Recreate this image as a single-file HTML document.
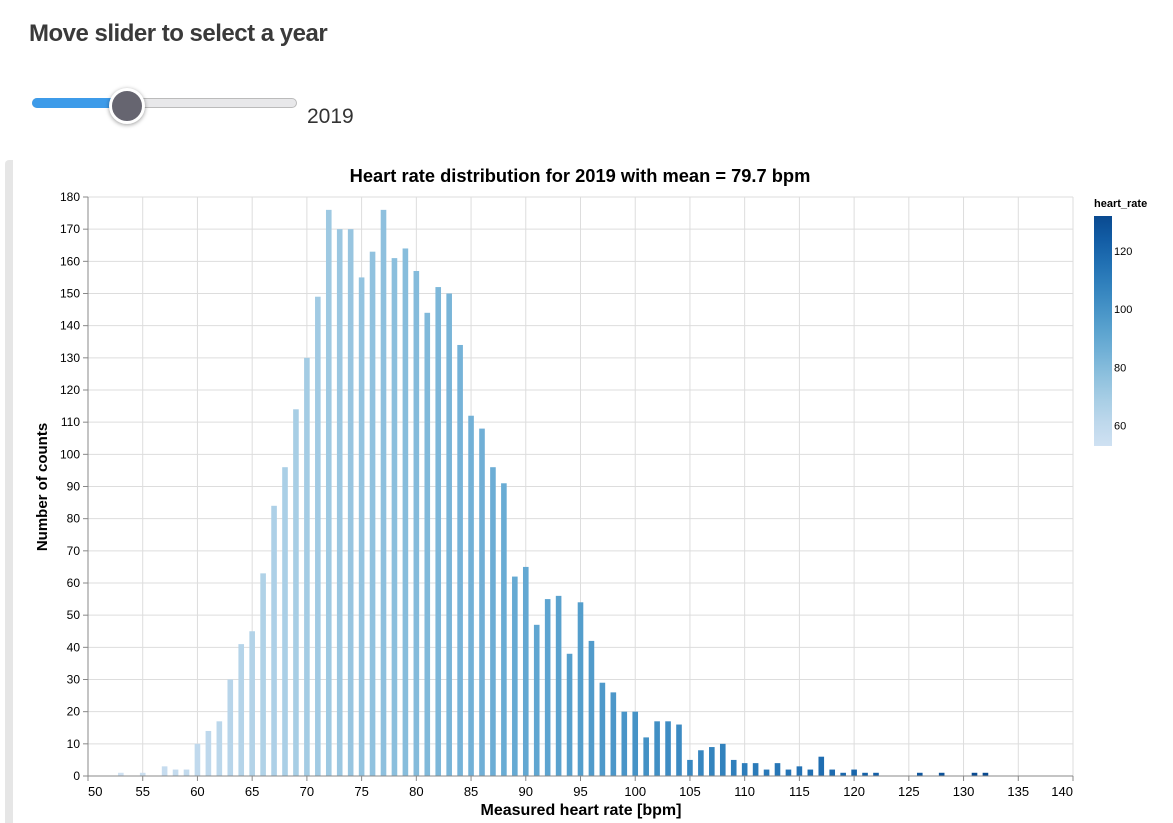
<!DOCTYPE html>
<html><head><meta charset="utf-8"><style>
body{margin:0;width:1173px;height:823px;background:#fff;font-family:"Liberation Sans",sans-serif;overflow:hidden;position:relative}
#h{position:absolute;left:29px;top:20px;font-size:24px;font-weight:bold;color:#3a3a3a;letter-spacing:-0.5px}
#track{position:absolute;left:32px;top:98px;width:265px;height:10px;border-radius:5px;background:#e8e8ea;border:1px solid #bbb;box-sizing:border-box}
#fill{position:absolute;left:32px;top:98px;width:95px;height:10px;border-radius:5px;background:#3d9be9}
#thumb{position:absolute;left:109px;top:88px;width:30px;height:30px;border-radius:50%;background:#666570;border:3px solid #fff;box-shadow:0 1px 4px rgba(0,0,0,.4)}
#yr{position:absolute;left:307px;top:105px;font-size:21px;color:#333}
#strip{position:absolute;left:5px;top:160px;width:8px;height:663px;background:#e6e6e6;border-radius:4px 0 0 0}
</style></head><body>
<div id="h">Move slider to select a year</div>
<div id="track"></div>
<div id="fill"></div>
<div id="thumb"></div>
<div id="yr">2019</div>
<div id="strip"></div>
<svg id="c" width="1173" height="823" style="position:absolute;left:0;top:0"></svg>
<script>
const heartRates=[53,55,57,58,59,60,61,62,63,64,65,66,67,68,69,70,71,72,73,74,75,76,77,78,79,80,81,82,83,84,85,86,87,88,89,90,91,92,93,94,95,96,97,98,99,100,101,102,103,104,105,106,107,108,109,110,111,112,113,114,115,116,117,118,119,120,121,122,126,128,131,132];
const counts=[1,1,3,2,2,10,14,17,30,41,45,63,84,96,114,130,149,176,170,170,155,163,176,161,164,157,144,152,150,134,112,108,96,91,62,65,47,55,56,38,54,42,29,26,20,20,12,17,17,16,5,8,9,10,5,4,4,2,4,2,3,2,6,2,1,2,1,1,1,1,1,1];
const xTicks=[50,55,60,65,70,75,80,85,90,95,100,105,110,115,120,125,130,135,140];
const yTicks=[0,10,20,30,40,50,60,70,80,90,100,110,120,130,140,150,160,170,180];
const legendTicks=[60,80,100,120];
const colorDomain=[53,132];
const NS="http://www.w3.org/2000/svg";
const svg=document.getElementById('c');
const X0=88,X1=1073,Y0=776,Y1=197;
const x=v=>X0+(v-50)/(140-50)*(X1-X0);
const y=v=>Y0-v/180*(Y0-Y1);
const stops=["#cfe1f2","#bed8ec","#a8cee5","#8fc1de","#74b2d7","#5ba3cf","#4592c6","#3181bd","#206fb2","#125ca4","#0a4a90"];
function hex(c){return [1,3,5].map(i=>parseInt(c.substr(i,2),16));}
function color(v){let t=(v-colorDomain[0])/(colorDomain[1]-colorDomain[0]);t=Math.max(0,Math.min(1,t));const p=t*(stops.length-1),i=Math.min(Math.floor(p),stops.length-2),f=p-i;const a=hex(stops[i]),b=hex(stops[i+1]);return "rgb("+a.map((c,k)=>Math.round(c+(b[k]-c)*f)).join(",")+")";}
function el(t,a,txt){const e=document.createElementNS(NS,t);for(const k in a)e.setAttribute(k,a[k]);if(txt!==undefined)e.textContent=txt;svg.appendChild(e);return e;}
yTicks.forEach(v=>{
 const g=el('line',{x1:X0,x2:X1,y1:y(v),y2:y(v),stroke:'#ddd'});
 
 
 el('line',{x1:X0-5,x2:X0,y1:y(v),y2:y(v),stroke:'#888'});
 const t=el('text',{x:X0-8,y:y(v)+4,'text-anchor':'end','font-size':12,fill:'#000'},v);
 
 
});
xTicks.forEach((v,i)=>{
 const g=el('line',{x1:x(v),x2:x(v),y1:Y1,y2:Y0,stroke:'#ddd'});
 
 
 el('line',{x1:x(v),x2:x(v),y1:Y0,y2:Y0+5,stroke:'#888'});
 const anchor=i===0?'start':(i===xTicks.length-1?'end':'middle');
 const t=el('text',{x:x(v),y:Y0+20,'text-anchor':anchor,'font-size':13,fill:'#000'},v);
 
 
});
heartRates.forEach((hr,i)=>{
 const r=el('rect',{x:x(hr)-2.8,y:y(counts[i]),width:5.6,height:Y0-y(counts[i]),fill:color(hr)});
 
 
});
el('line',{x1:X0,x2:X1,y1:Y0,y2:Y0,stroke:'#888'});
el('line',{x1:X0,x2:X0,y1:Y1,y2:Y0,stroke:'#888'});
let t=el('text',{x:580,y:182,'text-anchor':'middle','font-size':18.3,'font-weight':'bold'},'Heart rate distribution for 2019 with mean = 79.7 bpm');

t=el('text',{x:581,y:815,'text-anchor':'middle','font-size':16,'font-weight':'bold'},'Measured heart rate [bpm]');

t=el('text',{x:47,y:487,'text-anchor':'middle','font-size':15,'font-weight':'bold',transform:'rotate(-90 47 487)'},'Number of counts');

const defs=el('defs',{});
const lg=document.createElementNS(NS,'linearGradient');lg.setAttribute('id','lg');lg.setAttribute('x1','0');lg.setAttribute('x2','0');lg.setAttribute('y1','1');lg.setAttribute('y2','0');
stops.forEach((s,i)=>{const st=document.createElementNS(NS,'stop');st.setAttribute('offset',i/(stops.length-1));st.setAttribute('stop-color',s);lg.appendChild(st);});
defs.appendChild(lg);
const LT=216,LB=446;
const ly=v=>LB-(v-colorDomain[0])/(colorDomain[1]-colorDomain[0])*(LB-LT);
t=el('text',{x:1094,y:207,'font-size':11,'font-weight':'bold'},'heart_rate');

const lr=el('rect',{x:1094,y:LT,width:18,height:LB-LT,fill:'url(#lg)'});

legendTicks.forEach(v=>{const tt=el('text',{x:1114,y:ly(v)+4,'font-size':11},v);
 
 });
</script>
</body></html>
